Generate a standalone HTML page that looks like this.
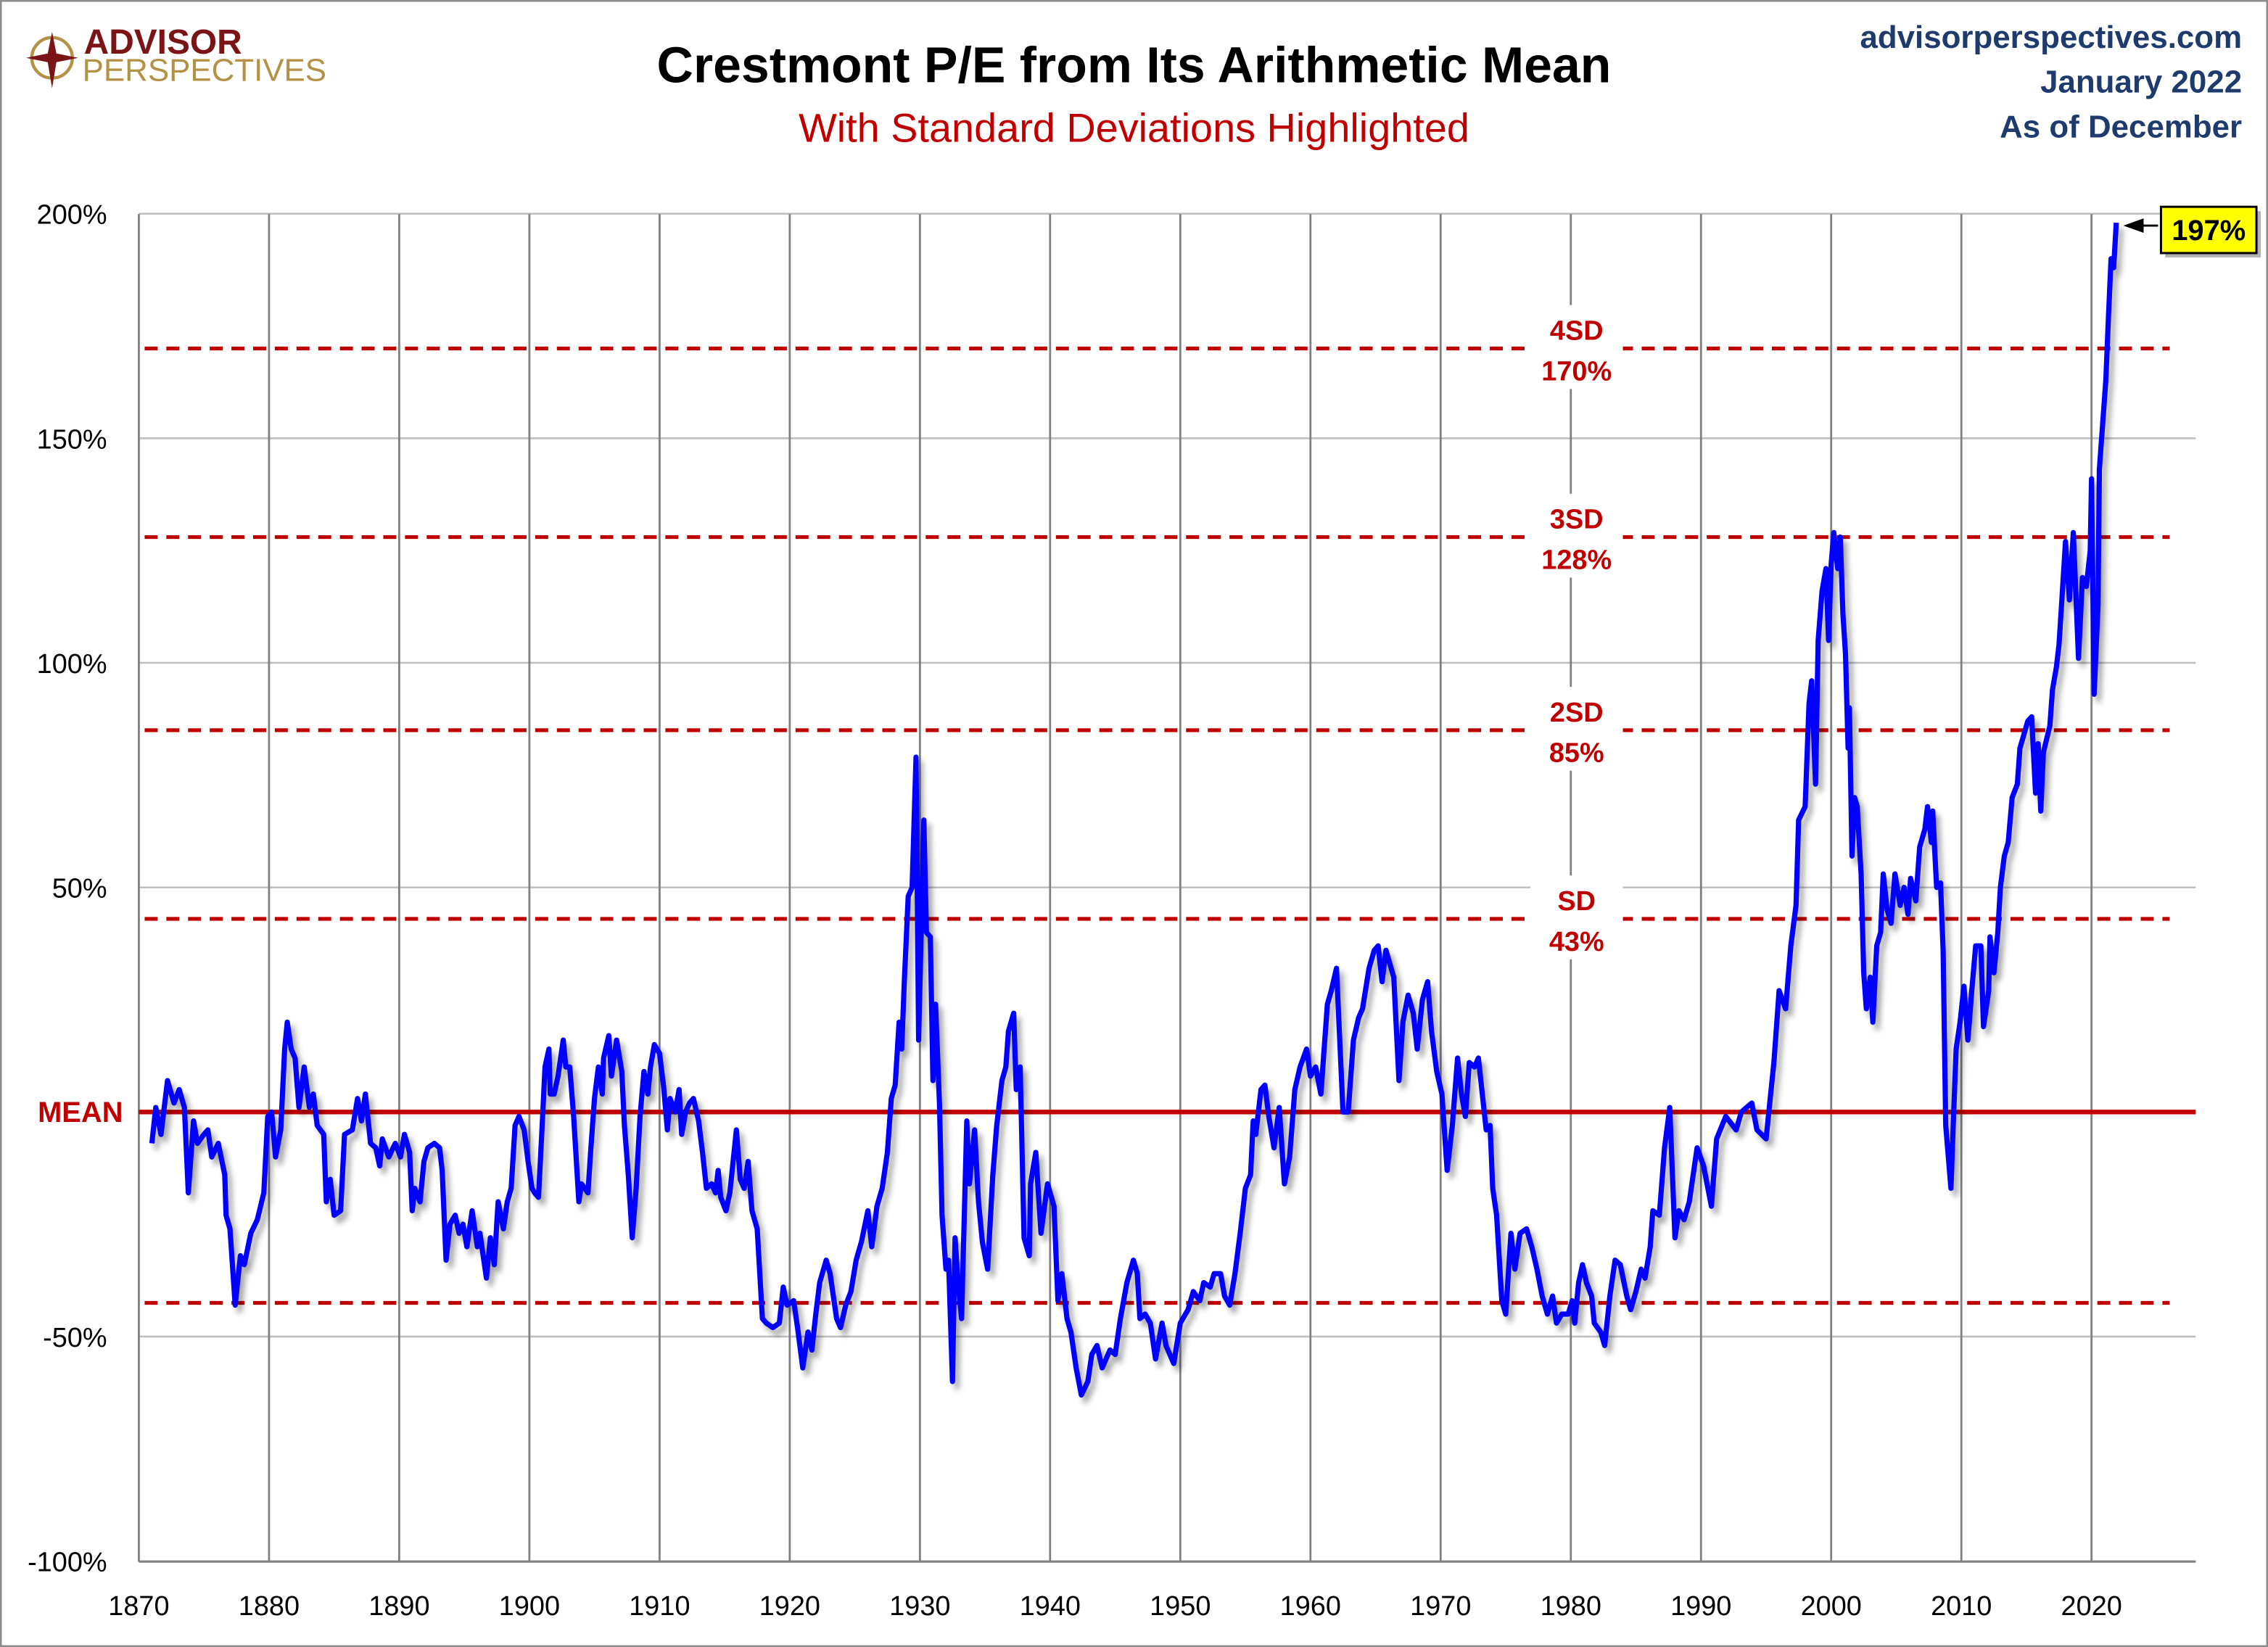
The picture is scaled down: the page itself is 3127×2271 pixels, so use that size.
<!DOCTYPE html>
<html><head><meta charset="utf-8">
<style>
html,body{margin:0;padding:0;background:#fff;}
svg{display:block;}
text{font-family:"Liberation Sans",sans-serif;}
</style></head>
<body>
<svg id="chart" width="3127" height="2271" viewBox="0 0 1568 1139" preserveAspectRatio="none" xmlns="http://www.w3.org/2000/svg">
<defs>
<filter id="sh" x="-5%" y="-5%" width="110%" height="110%">
<feGaussianBlur in="SourceAlpha" stdDeviation="2"/>
<feOffset dx="3" dy="4" result="b"/>
<feComponentTransfer><feFuncA type="linear" slope="0.35"/></feComponentTransfer>
<feMerge><feMergeNode/><feMergeNode in="SourceGraphic"/></feMerge>
</filter>
</defs>
<rect x="0.5" y="0.5" width="1567" height="1138" fill="#fff" stroke="#8c8c8c" stroke-width="1.5"/>
<g>
<circle cx="36" cy="40" r="14" fill="none" stroke="#b39245" stroke-width="2.2"/>
<polygon points="36,22 39,37 54,40 39,43 36,61 33,43 18,40 33,37" fill="#7a1416"/>
<text x="58" y="37" font-size="24" font-weight="bold" fill="#7a1416">ADVISOR</text>
<text x="57" y="56" font-size="22" fill="#b39245">PERSPECTIVES</text>
</g>
<text x="784" y="57" text-anchor="middle" font-size="35" font-weight="bold" fill="#000">Crestmont P/E from Its Arithmetic Mean</text>
<text x="784" y="98" text-anchor="middle" font-size="28" fill="#c00000">With Standard Deviations Highlighted</text>
<text x="1550" y="33" text-anchor="end" font-size="22" font-weight="bold" fill="#1f3b6e">advisorperspectives.com</text>
<text x="1550" y="64" text-anchor="end" font-size="22" font-weight="bold" fill="#1f3b6e">January 2022</text>
<text x="1550" y="95" text-anchor="end" font-size="22" font-weight="bold" fill="#1f3b6e">As of December</text>
<g id="grid"></g>
<g id="sd"></g>
<g id="series"></g>
<g id="labels"></g>
</svg>
<script>
const xTicks=[1870,1880,1890,1900,1910,1920,1930,1940,1950,1960,1970,1980,1990,2000,2010,2020];
const yTicks=[200,150,100,50,0,-50,-100];
const yTickLabels=["200%","150%","100%","50%","MEAN","-50%","-100%"];
const sdValues=[170,128,85,43,-42.5];
const sdNames=["4SD","3SD","2SD","SD",""];
const sdPctLabels=["170%","128%","85%","43%",""];
const years=[1871.0,1871.3,1871.7,1872.2,1872.7,1873.1,1873.5,1873.8,1874.2,1874.5,1875,1875.3,1875.6,1876.1,1876.6,1876.7,1877,1877.4,1877.8,1878.1,1878.6,1879.1,1879.6,1879.9,1880.2,1880.5,1880.9,1881.2,1881.4,1881.7,1882,1882.3,1882.7,1883.1,1883.4,1883.7,1884.2,1884.4,1884.7,1885,1885.5,1885.8,1886.4,1886.8,1887.1,1887.4,1887.8,1888.2,1888.5,1888.7,1889.2,1889.7,1890.1,1890.4,1890.8,1891,1891.2,1891.6,1891.9,1892.2,1892.7,1893.1,1893.3,1893.6,1893.9,1894.3,1894.6,1894.9,1895.2,1895.6,1896.0,1896.2,1896.7,1897.0,1897.3,1897.6,1898.0,1898.3,1898.6,1898.9,1899.2,1899.6,1899.9,1900.2,1900.4,1900.7,1901.0,1901.2,1901.5,1901.6,1901.9,1902.2,1902.6,1902.8,1903.1,1903.4,1903.8,1904.0,1904.5,1904.7,1905.0,1905.3,1905.6,1905.7,1906.1,1906.3,1906.7,1907.1,1907.3,1907.6,1907.9,1908.2,1908.5,1908.8,1909.1,1909.3,1909.6,1910.0,1910.3,1910.6,1910.8,1911.2,1911.5,1911.7,1912.0,1912.3,1912.6,1913.0,1913.3,1913.6,1914,1914.3,1914.5,1914.7,1915.1,1915.4,1915.9,1916.2,1916.5,1916.8,1917.1,1917.5,1917.9,1918.2,1918.7,1919.2,1919.5,1919.8,1920.3,1920.6,1921,1921.4,1921.7,1922.0,1922.3,1922.8,1923.1,1923.6,1923.9,1924.3,1924.7,1925.1,1925.5,1926.0,1926.3,1926.7,1927.1,1927.5,1927.8,1928.1,1928.4,1928.6,1928.8,1929.1,1929.4,1929.7,1929.9,1930.3,1930.5,1930.8,1931.0,1931.2,1931.5,1931.7,1932.0,1932.2,1932.5,1932.7,1932.9,1933.2,1933.6,1933.8,1934.2,1934.5,1934.8,1935.2,1935.6,1935.9,1936.3,1936.6,1936.8,1937.2,1937.4,1937.7,1938.0,1938.4,1938.5,1938.9,1939.3,1939.8,1940.3,1940.6,1940.9,1941.3,1941.6,1942.0,1942.4,1942.9,1943.2,1943.6,1944.0,1944.3,1944.6,1945.0,1945.4,1945.9,1946.4,1946.7,1946.9,1947.3,1947.7,1948.1,1948.6,1948.9,1949.5,1950.0,1950.6,1951.0,1951.5,1951.8,1952.3,1952.6,1953.1,1953.4,1953.8,1954.2,1954.6,1955.0,1955.4,1955.6,1955.8,1956.2,1956.5,1956.8,1957.2,1957.6,1958.0,1958.4,1958.8,1959.2,1959.7,1960.0,1960.4,1960.8,1961.3,1961.6,1962.0,1962.5,1962.9,1963.3,1963.7,1964.0,1964.5,1964.9,1965.2,1965.5,1965.8,1966.4,1966.8,1967.1,1967.5,1967.9,1968.2,1968.6,1969.0,1969.3,1969.7,1970.1,1970.5,1970.9,1971.3,1971.6,1971.9,1972.2,1972.6,1972.9,1973.5,1973.8,1974.0,1974.3,1974.7,1975.0,1975.4,1975.7,1976.1,1976.6,1977.0,1977.4,1977.8,1978.2,1978.6,1978.9,1979.3,1979.8,1980.1,1980.3,1980.6,1980.9,1981.2,1981.6,1981.8,1982.3,1982.6,1983.0,1983.4,1983.8,1984.3,1984.6,1985.0,1985.4,1985.7,1986.1,1986.3,1986.8,1987.2,1987.6,1988.0,1988.3,1988.7,1989.1,1989.7,1990.2,1990.8,1991.2,1991.9,1992.7,1993.1,1993.9,1994.3,1995.0,1995.6,1996.0,1996.5,1996.9,1997.3,1997.5,1998.0,1998.3,1998.5,1998.8,1999.0,1999.3,1999.6,1999.8,2000.0,2000.2,2000.5,2000.7,2000.9,2001.1,2001.3,2001.4,2001.6,2001.8,2002.0,2002.3,2002.5,2002.7,2003.0,2003.2,2003.5,2003.8,2004.0,2004.3,2004.6,2004.9,2005.3,2005.6,2005.9,2006.1,2006.5,2006.8,2007.2,2007.4,2007.7,2007.8,2008.1,2008.4,2008.6,2008.8,2009.2,2009.4,2009.6,2009.9,2010.2,2010.5,2010.8,2011.1,2011.5,2011.7,2012.1,2012.2,2012.5,2012.8,2013.0,2013.3,2013.6,2013.9,2014.3,2014.5,2014.8,2015.1,2015.4,2015.7,2015.9,2016.1,2016.3,2016.8,2017.0,2017.3,2017.5,2017.7,2018.0,2018.3,2018.6,2019.0,2019.3,2019.6,2019.9,2020.0,2020.2,2020.5,2020.6,2020.9,2021.1,2021.3,2021.5,2021.7,2021.9];
const values=[-7,1,-5,7,2,5,1,-18,-2,-7,-5,-4,-10,-7,-14,-23,-26,-43,-32,-34,-27,-24,-18,-1,0,-10,-4,14,20,14,12,1,10,1,4,-3,-5,-20,-15,-23,-22,-5,-4,3,-2,4,-7,-8,-12,-6,-10,-7,-10,-5,-9,-22,-17,-20,-11,-8,-7,-8,-13,-33,-25,-23,-27,-25,-30,-22,-30,-27,-37,-28,-34,-20,-26,-20,-17,-3,-1,-4,-11,-17,-18,-19,-2,10,14,4,4,8,16,10,10,-1,-20,-16,-18,-9,3,10,4,12,17,8,16,9,-3,-14,-28,-17,-1,9,4,10,15,13,6,-4,3,0,5,-5,0,2,3,-2,-9,-17,-16,-18,-13,-19,-22,-18,-4,-15,-17,-11,-22,-26,-46,-47,-48,-47,-39,-43,-42,-48,-57,-49,-53,-45,-38,-33,-36,-46,-48,-43,-40,-33,-29,-22,-30,-21,-17,-9,3,6,20,14,29,48,50,79,16,65,40,39,7,24,2,-23,-35,-33,-60,-28,-37,-46,-2,-16,-4,-20,-29,-35,-14,-3,7,10,18,22,5,10,-28,-32,-16,-9,-27,-16,-21,-42,-36,-46,-49,-57,-63,-60,-54,-52,-57,-55,-53,-54,-46,-38,-33,-36,-46,-45,-47,-55,-47,-52,-56,-47,-44,-40,-42,-38,-39,-36,-36,-41,-43,-36,-27,-17,-14,-2,-5,5,6,-1,-8,1,-16,-10,5,10,14,8,10,4,24,27,32,0,0,16,21,23,32,36,37,29,36,30,7,20,26,22,14,25,29,18,9,4,-13,-3,12,4,-1,11,10,12,-4,-3,-17,-23,-42,-45,-27,-35,-27,-26,-30,-35,-41,-45,-41,-47,-45,-45,-42,-47,-38,-34,-38,-41,-47,-49,-52,-41,-33,-34,-41,-44,-40,-35,-37,-30,-22,-23,-8,1,-28,-22,-24,-20,-8,-12,-21,-6,-1,-4,0,2,-4,-6,11,27,23,37,46,65,68,91,96,73,105,116,121,105,122,129,121,128,111,102,81,90,57,70,68,53,31,23,30,20,37,40,53,45,42,53,46,50,44,52,47,59,63,68,60,67,50,51,36,-3,-17,-1,14,20,28,16,27,37,37,19,27,39,31,40,50,57,60,70,73,81,84,87,88,71,82,67,80,86,94,99,104,113,127,114,129,101,119,117,125,141,93,113,143,155,163,177,190,188,198];

const NS="http://www.w3.org/2000/svg";
const X0=96,X1=1518,Y0=148,Y1=1080;
function xs(yr){return X0+(yr-1870)*9;}
function ys(v){return 769-v*3.106;}
function mk(tag,attrs,parent){const e=document.createElementNS(NS,tag);for(const k in attrs)e.setAttribute(k,attrs[k]);parent.appendChild(e);return e;}
const grid=document.getElementById('grid'),sd=document.getElementById('sd'),ser=document.getElementById('series'),lab=document.getElementById('labels');

yTicks.forEach((t,i)=>{
  if(t!==0){
    const l=mk('line',{x1:X0,x2:X1,y1:ys(t),y2:ys(t),stroke:'#bfbfbf','stroke-width':1.3},grid);
    
    
  }
  const tx=mk('text',{x:t===0?85:74,y:ys(t)+7,'text-anchor':'end','font-size':t===0?20:19,fill:t===0?'#c00000':'#000','font-weight':t===0?'bold':'normal'},lab);
  tx.textContent=yTickLabels[i];
  
  
});
xTicks.forEach(t=>{
  const x=xs(t);
  if(t>1870){
    const l=mk('line',{x1:x,x2:x,y1:Y0,y2:Y1,stroke:'#808080','stroke-width':1.4},grid);
    
    
  }
  const tx=mk('text',{x:x,y:1117,'text-anchor':'middle','font-size':19,fill:'#000'},lab);
  tx.textContent=String(t);
  
  
});
const ax=mk('line',{x1:X0,x2:X0,y1:Y0,y2:Y1,stroke:'#808080','stroke-width':1.4},grid);


const bx=mk('line',{x1:X0,x2:X1,y1:Y1,y2:Y1,stroke:'#808080','stroke-width':1.4},grid);



sdValues.forEach(v=>{
  const l=mk('line',{x1:100,x2:1500,y1:ys(v),y2:ys(v),stroke:'#c00000','stroke-width':2.6,'stroke-dasharray':'9 6'},sd);
  
  
});
const ml=mk('line',{x1:X0,x2:X1,y1:ys(0),y2:ys(0),stroke:'#c00000','stroke-width':3.2},sd);



let d='';
years.forEach((yr,i)=>{d+=(i?'L':'M')+xs(yr).toFixed(1)+','+ys(values[i]).toFixed(1);});
const p=mk('path',{d:d,fill:'none',stroke:'#0000ff','stroke-width':3.6,'stroke-linejoin':'round',filter:'url(#sh)'},ser);



sdValues.forEach((v,i)=>{
  if(!sdNames[i])return;
  const y=ys(v);
  const r=mk('rect',{x:1058,y:y-30,width:64,height:58,fill:'#fff'},lab);
  
  
  const t1=mk('text',{x:1090,y:y-6,'text-anchor':'middle','font-size':19,'font-weight':'bold',fill:'#c00000'},lab);
  t1.textContent=sdNames[i];
  
  
  const t2=mk('text',{x:1090,y:y+22,'text-anchor':'middle','font-size':19,'font-weight':'bold',fill:'#c00000'},lab);
  t2.textContent=sdPctLabels[i];
  
  
});

const lastY=ys(values[values.length-1]);
const cg=mk('g',{},lab);


mk('line',{x1:1478,x2:1492,y1:lastY+2,y2:lastY+2,stroke:'#000','stroke-width':1.5},cg);
mk('polygon',{points:`1468,${lastY+2} 1482,${lastY-3} 1482,${lastY+7}`,fill:'#000'},cg);
mk('rect',{x:1494,y:lastY-11,width:66,height:32,fill:'#000',opacity:0.3,transform:'translate(3,3)'},cg);
mk('rect',{x:1494,y:lastY-11,width:66,height:32,fill:'#ffff00',stroke:'#000','stroke-width':1.5},cg);
const ct=mk('text',{x:1527,y:lastY+12,'text-anchor':'middle','font-size':20,'font-weight':'bold',fill:'#000'},cg);
ct.textContent=values[values.length-1]-1+'%';
</script>
</body></html>
